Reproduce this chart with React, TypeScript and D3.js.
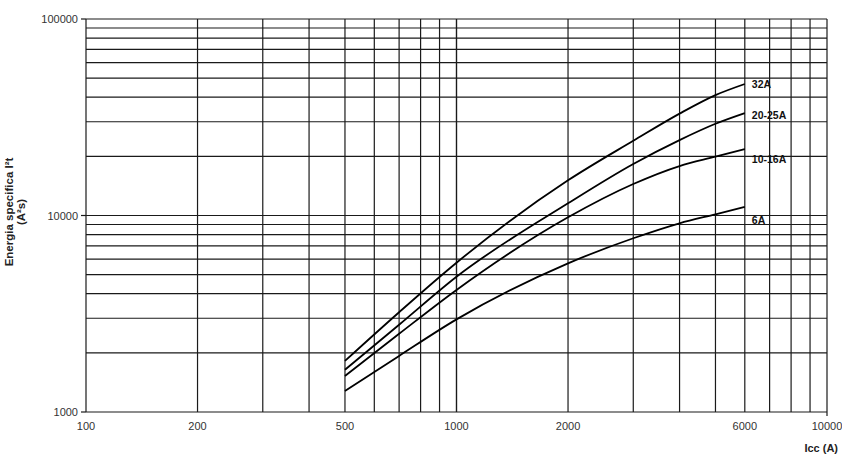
import React from "react";
import * as d3 from "d3";

// Icc (A) sample points, same for every curve
const currents = [500, 700, 1000, 2000, 3000, 4000, 5000, 6000];

const series = [
    { label: "32A", values: [1820, 3220, 5750, 15100, 24000, 33000, 41000, 46700] },
    { label: "20-25A", values: [1640, 2780, 4880, 11540, 18300, 24200, 29300, 33200] },
    { label: "10-16A", values: [1525, 2500, 4180, 9790, 14460, 17850, 19920, 21800] },
    { label: "6A", values: [1280, 1930, 2960, 5710, 7660, 9130, 10140, 11050] },
];

// label y offsets relative to curve end (px)
const labelDy = [4, 6, 14, 17];

const xTickLabels = [100, 200, 500, 1000, 2000, 6000, 10000];
const yTickLabels = [1000, 10000, 100000];

const W = 842;
const H = 463;
const margin = { left: 86, right: 15, top: 19, bottom: 51 };

export default function App() {
    const x = d3.scaleLog().domain([100, 10000]).range([margin.left, W - margin.right]);
    const y = d3.scaleLog().domain([1000, 100000]).range([H - margin.bottom, margin.top]);

    const xGrid: number[] = [];
    const yGrid: number[] = [];
    for (let d = 100; d < 10000; d *= 10) for (let k = 1; k <= 10; k++) xGrid.push(d * k);
    for (let d = 1000; d < 100000; d *= 10) for (let k = 1; k <= 10; k++) yGrid.push(d * k);

    const line = d3
        .line<number>()
        .x((_, i) => x(currents[i]))
        .y((d) => y(d))
        .curve(d3.curveMonotoneX);

    const font = "'Liberation Sans', Arial, sans-serif";
    const [x0, x1] = x.range();
    const [y0, y1] = y.range();

    return (
        <svg
            width={W}
            height={H}
            style={{ position: "absolute", left: 0, top: 0, background: "#fff" }}
            fontFamily={font}
        >
            <g stroke="#1a1a1a" strokeWidth={1.2}>
                {xGrid.map((v) => (
                    <line key={"x" + v} x1={x(v)} x2={x(v)} y1={y1} y2={y0} />
                ))}
                {yGrid.map((v) => (
                    <line key={"y" + v} x1={x0} x2={x1} y1={y(v)} y2={y(v)} />
                ))}
                {yTickLabels.map((v) => (
                    <line key={"yt" + v} x1={x0 - 5} x2={x0} y1={y(v)} y2={y(v)} />
                ))}
                <line x1={x1} x2={x1} y1={y0} y2={y0 + 4} />
            </g>

            <g fill="none" stroke="#000" strokeWidth={1.8}>
                {series.map((s) => (
                    <path key={s.label} d={line(s.values) || ""} />
                ))}
            </g>

            <g fontSize={10.5} fontWeight="bold" fill="#111">
                {series.map((s, i) => (
                    <text
                        key={s.label}
                        x={x(currents[currents.length - 1]) + 7}
                        y={y(s.values[s.values.length - 1]) + labelDy[i]}
                    >
                        {s.label}
                    </text>
                ))}
            </g>

            <g fontSize={11} fill="#333">
                {yTickLabels.map((v) => (
                    <text key={v} x={x0 - 8} y={y(v) + 4} textAnchor="end">
                        {v}
                    </text>
                ))}
                {xTickLabels.map((v) => (
                    <text key={v} x={x(v)} y={y0 + 18} textAnchor="middle">
                        {v}
                    </text>
                ))}
            </g>

            <text x={838} y={452} textAnchor="end" fontSize={11} fontWeight="bold" fill="#222">
                Icc (A)
            </text>

            <g transform={`translate(13, 212) rotate(-90)`} fontSize={11.5} fontWeight="bold" fill="#222">
                <text x={0} y={0} textAnchor="middle">
                    Energia specifica I²t
                </text>
                <text x={0} y={12} textAnchor="middle">
                    (A²s)
                </text>
            </g>
        </svg>
    );
}
